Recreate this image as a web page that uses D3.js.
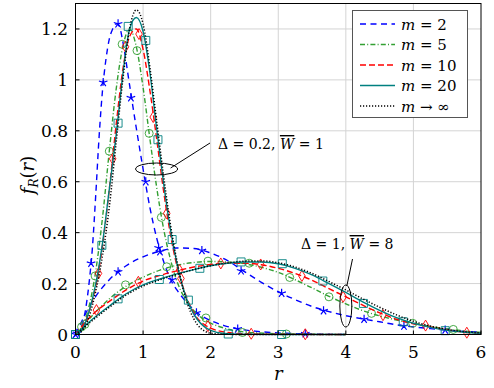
<!DOCTYPE html>
<html>
<head>
<meta charset="utf-8">
<script src="https://cdn.jsdelivr.net/npm/d3@7"></script>
<style>
  body { margin: 0; background: #fff; }
  text { font-family: "DejaVu Serif", serif; }
</style>
</head>
<body>
<svg id="chart" width="494" height="388"></svg>
<script>
// narrow group: Delta = 0.2, W = 1   ([r, f_R(r)])
var n2 = [[0,0],[0.1,0.04],[0.15,0.1],[0.2,0.2],[0.25,0.34],[0.3,0.55],[0.35,0.78],[0.4,0.96],[0.45,1.08],[0.5,1.16],[0.55,1.2],[0.6,1.22],[0.65,1.21],[0.7,1.15],[0.8,0.98],[0.9,0.81],[1.0,0.65],[1.1,0.5],[1.2,0.38],[1.3,0.29],[1.4,0.22],[1.5,0.175],[1.6,0.14],[1.8,0.085],[2.0,0.055],[2.2,0.035],[2.4,0.022],[2.7,0.012],[3.0,0.006],[3.5,0.002],[4.0,0]];
var n5 = [[0,0],[0.1,0.03],[0.2,0.11],[0.3,0.25],[0.4,0.46],[0.5,0.72],[0.6,0.96],[0.7,1.13],[0.8,1.2],[0.9,1.13],[1.0,0.97],[1.1,0.77],[1.2,0.58],[1.3,0.42],[1.4,0.3],[1.5,0.21],[1.6,0.15],[1.7,0.11],[1.8,0.08],[1.9,0.06],[2.0,0.045],[2.2,0.025],[2.5,0.01],[3.0,0.003],[3.5,0.001],[4,0]];
var n10 = [[0,0],[0.1,0.025],[0.2,0.09],[0.3,0.19],[0.4,0.35],[0.5,0.57],[0.6,0.82],[0.7,1.04],[0.8,1.17],[0.9,1.2],[1.0,1.12],[1.1,0.96],[1.2,0.77],[1.3,0.57],[1.4,0.4],[1.5,0.27],[1.6,0.18],[1.7,0.11],[1.8,0.065],[1.9,0.04],[2.0,0.025],[2.2,0.01],[2.5,0.003],[3,0.001],[4,0]];
var n20 = [[0,0],[0.1,0.02],[0.2,0.09],[0.3,0.2],[0.4,0.36],[0.5,0.57],[0.6,0.78],[0.7,1.02],[0.8,1.2],[0.9,1.245],[1.0,1.19],[1.1,1.03],[1.2,0.81],[1.3,0.6],[1.4,0.42],[1.5,0.28],[1.6,0.175],[1.7,0.105],[1.8,0.06],[1.9,0.032],[2.0,0.016],[2.2,0.004],[2.5,0.001],[3,0],[4,0]];
var nInf = [[0,0],[0.1,0.015],[0.2,0.07],[0.3,0.17],[0.4,0.31],[0.5,0.5],[0.6,0.75],[0.7,1.0],[0.8,1.2],[0.9,1.275],[1.0,1.22],[1.1,1.05],[1.2,0.84],[1.3,0.63],[1.4,0.44],[1.5,0.29],[1.6,0.17],[1.7,0.09],[1.8,0.04],[1.9,0.015],[2.0,0.005],[2.2,0.001],[2.5,0],[4,0]];

// broad group: Delta = 1, W = 8
var b2 = [[0,0],[0.25,0.13],[0.5,0.215],[0.75,0.27],[1,0.305],[1.25,0.327],[1.5,0.34],[1.75,0.338],[2,0.32],[2.25,0.29],[2.5,0.247],[2.75,0.205],[3,0.168],[3.25,0.137],[3.5,0.11],[3.75,0.09],[4,0.074],[4.25,0.061],[4.5,0.05],[4.75,0.038],[5,0.03],[5.25,0.023],[5.5,0.017],[5.75,0.012],[6,0.009]];
var b5 = [[0,0],[0.25,0.075],[0.5,0.14],[0.75,0.19],[1,0.225],[1.25,0.253],[1.5,0.272],[1.75,0.283],[2,0.287],[2.25,0.285],[2.5,0.278],[2.75,0.264],[3,0.244],[3.25,0.215],[3.5,0.183],[3.75,0.15],[4,0.12],[4.25,0.094],[4.5,0.073],[4.75,0.057],[5,0.044],[5.25,0.032],[5.5,0.022],[5.75,0.014],[6,0.008]];
var b10 = [[0,0],[0.25,0.078],[0.5,0.13],[0.75,0.175],[1,0.21],[1.25,0.232],[1.5,0.25],[1.75,0.265],[2,0.275],[2.25,0.28],[2.5,0.28],[2.75,0.274],[3,0.26],[3.25,0.24],[3.5,0.213],[3.75,0.18],[4,0.148],[4.25,0.115],[4.5,0.085],[4.75,0.06],[5,0.042],[5.25,0.03],[5.5,0.018],[5.75,0.009],[6,0.005]];
var b20 = [[0,0],[0.25,0.06],[0.5,0.112],[0.75,0.16],[1,0.195],[1.25,0.218],[1.5,0.238],[1.75,0.255],[2,0.27],[2.25,0.28],[2.5,0.285],[2.75,0.285],[3,0.278],[3.25,0.26],[3.5,0.234],[3.75,0.2],[4,0.165],[4.25,0.128],[4.5,0.095],[4.75,0.066],[5,0.044],[5.25,0.028],[5.5,0.016],[5.75,0.009],[6,0.005]];
var bInf = [[0,0],[0.25,0.055],[0.5,0.107],[0.75,0.155],[1,0.19],[1.25,0.215],[1.5,0.236],[1.75,0.255],[2,0.27],[2.25,0.281],[2.5,0.288],[2.75,0.289],[3,0.282],[3.25,0.265],[3.5,0.24],[3.75,0.208],[4,0.175],[4.25,0.14],[4.5,0.107],[4.75,0.077],[5,0.052],[5.25,0.033],[5.5,0.02],[5.75,0.011],[6,0.006]];

// simulation marks
var n2Marks = [[0,0],[0.23,0.28],[0.41,0.99],[0.63,1.22],[0.82,0.93],[1.04,0.6],[1.23,0.34],[1.43,0.215],[1.79,0.085],[2.4,0.022],[3.4,0.003]];
var n5Marks = [[0.09,0.03],[0.29,0.23],[0.5,0.72],[0.69,1.14],[0.91,1.115],[1.09,0.79],[1.27,0.46],[1.93,0.065],[2.47,0.008],[3.12,0.002]];
var n10Marks = [[0.34,0.24],[0.55,0.69],[0.74,1.13],[0.94,1.18],[1.15,0.854],[1.35,0.476],[1.56,0.22],[1.96,0.033],[2.6,0.003],[3.4,0.001]];
var n20Marks = [[0,0],[0.39,0.35],[0.63,0.83],[0.78,1.21],[1.04,1.155],[1.22,0.765],[1.43,0.373],[1.67,0.135],[2.26,0.002],[3.05,0]];
var b2Marks = [[0.02,0.005],[0.63,0.246],[1.25,0.325],[1.87,0.33],[2.45,0.25],[3.05,0.162],[3.67,0.093],[4.27,0.06],[4.86,0.033],[5.47,0.018]];
var b5Marks = [[0.14,0.04],[0.74,0.195],[1.35,0.266],[1.96,0.288],[2.57,0.28],[3.17,0.224],[3.75,0.148],[4.38,0.083],[4.99,0.044],[5.59,0.02]];
var b10Marks = [[0.31,0.096],[0.93,0.207],[1.54,0.253],[2.15,0.279],[2.74,0.275],[3.35,0.23],[3.96,0.148],[4.55,0.076],[5.18,0.035],[5.79,0.007]];
var b20Marks = [[0,0],[0.63,0.14],[1.24,0.216],[1.84,0.26],[2.45,0.285],[3.06,0.278],[3.66,0.21],[4.26,0.122],[4.85,0.05],[5.47,0.015]];

var legendLabels = ["2", "5", "10", "20", "\u221e"];
var xTicks = [0, 1, 2, 3, 4, 5, 6];
var yTicks = [0, 0.2, 0.4, 0.6, 0.8, 1, 1.2];

var pLeft = 75.5, pTop = 3.5, pRight = 481, pBottom = 334.5;

var x = d3.scaleLinear().domain([0, 6]).range([pLeft, pRight]);
var y = d3.scaleLinear().domain([0, 1.3]).range([pBottom, pTop]);

var svg = d3.select("#chart");

// grid
svg.append("g").selectAll("line").data(xTicks.slice(1, -1)).join("line")
    .attr("x1", d => x(d)).attr("x2", d => x(d)).attr("y1", pTop).attr("y2", pBottom)
    .attr("stroke", "#d4d4d4").attr("stroke-width", 1);
svg.append("g").selectAll("line").data(yTicks.slice(1)).join("line")
    .attr("x1", pLeft).attr("x2", pRight).attr("y1", d => y(d)).attr("y2", d => y(d))
    .attr("stroke", "#d4d4d4").attr("stroke-width", 1);

var series = [
    { name: "m2", color: "#0000ff", dash: "6,4.5", mark: "star", lines: [n2, b2], marks: [n2Marks, b2Marks] },
    { name: "m5", color: "#33a033", dash: "5,2.2,1,2.2", mark: "circle", lines: [n5, b5], marks: [n5Marks, b5Marks] },
    { name: "m10", color: "#ff0000", dash: "6,3", mark: "diamond", lines: [n10, b10], marks: [n10Marks, b10Marks] },
    { name: "m20", color: "#008080", dash: null, mark: "square", lines: [n20, b20], marks: [n20Marks, b20Marks] },
    { name: "inf", color: "#000000", dash: "1.2,1.8", mark: null, lines: [nInf, bInf], marks: [] }
];

var line = d3.line().x(d => x(d[0])).y(d => y(d[1])).curve(d3.curveMonotoneX);

svg.append("clipPath").attr("id", "clip").append("rect")
    .attr("x", pLeft - 6).attr("y", pTop).attr("width", pRight - pLeft + 12).attr("height", pBottom - pTop + 6);

function markPath(type) {
    if (type == "star") {
        var p = "";
        for (var i = 0; i < 5; i++) {
            var a = -Math.PI / 2 + i * 2 * Math.PI / 5;
            p += "M0,0L" + (4.5 * Math.cos(a)).toFixed(2) + "," + (4.5 * Math.sin(a)).toFixed(2);
        }
        return p;
    }
    if (type == "circle") return "M4,0A4,4 0 1,1 -4,0A4,4 0 1,1 4,0Z";
    if (type == "diamond") return "M0,-5.5L3.3,0L0,5.5L-3.3,0Z";
    if (type == "square") return "M-4,-4H4V4H-4Z";
}

var plot = svg.append("g").attr("clip-path", "url(#clip)");

series.forEach(s => {
    s.lines.forEach(pts => {
        plot.append("path").datum(pts)
            .attr("d", line)
            .attr("fill", "none")
            .attr("stroke", s.color)
            .attr("stroke-width", s.name == "inf" ? 1.5 : 1.4)
            .attr("stroke-dasharray", s.dash);
    });
    s.marks.forEach(pts => {
        plot.append("g").selectAll("path").data(pts).join("path")
            .attr("transform", d => "translate(" + x(d[0]) + "," + y(d[1]) + ")")
            .attr("d", markPath(s.mark))
            .attr("fill", "none")
            .attr("stroke", s.color)
            .attr("stroke-width", s.mark == "star" ? 1.2 : 0.9);
    });
});

// axis box
svg.append("rect").attr("x", pLeft).attr("y", pTop).attr("width", pRight - pLeft).attr("height", pBottom - pTop)
    .attr("fill", "none").attr("stroke", "#000").attr("stroke-width", 1);

// ticks
svg.append("g").selectAll("line").data(xTicks).join("line")
    .attr("x1", d => x(d)).attr("x2", d => x(d)).attr("y1", pBottom).attr("y2", pBottom - 4)
    .attr("stroke", "#000");
svg.append("g").selectAll("line").data(yTicks).join("line")
    .attr("x1", pLeft).attr("x2", pLeft + 4).attr("y1", d => y(d)).attr("y2", d => y(d))
    .attr("stroke", "#000");

svg.append("g").selectAll("text").data(xTicks).join("text")
    .attr("x", d => x(d)).attr("y", 358)
    .attr("text-anchor", "middle").attr("font-size", 17)
    .text(d => d);
svg.append("g").selectAll("text").data(yTicks).join("text")
    .attr("x", 68).attr("y", d => y(d) + 6)
    .attr("text-anchor", "end").attr("font-size", 17)
    .text(d => d);

svg.append("text").attr("x", (pLeft + pRight) / 2).attr("y", 380)
    .attr("text-anchor", "middle").attr("font-size", 18).attr("font-style", "italic").text("r");

var ylab = svg.append("text").attr("transform", "translate(34,175) rotate(-90)")
    .attr("text-anchor", "middle").attr("font-size", 18);
ylab.append("tspan").attr("font-style", "italic").text("f");
ylab.append("tspan").attr("font-style", "italic").attr("font-size", 12).attr("dy", 4).text("R");
ylab.append("tspan").attr("dy", -4).text("(");
ylab.append("tspan").attr("font-style", "italic").text("r");
ylab.append("tspan").text(")");

// annotations
svg.append("ellipse").attr("cx", x(1.2)).attr("cy", y(0.65)).attr("rx", 21).attr("ry", 6)
    .attr("fill", "none").attr("stroke", "#000").attr("stroke-width", 1);
svg.append("line").attr("x1", x(1.2) + 14).attr("y1", y(0.65) - 1).attr("x2", 210).attr("y2", 143)
    .attr("stroke", "#000").attr("stroke-width", 1);
var a1 = svg.append("text").attr("x", 218).attr("y", 149).attr("font-size", 14);
a1.append("tspan").text("\u0394 = 0.2, ");
a1.append("tspan").attr("font-style", "italic").style("text-decoration", "overline").text("W");
a1.append("tspan").text(" = 1");

svg.append("ellipse").attr("cx", x(4)).attr("cy", 306).attr("rx", 6).attr("ry", 21)
    .attr("fill", "none").attr("stroke", "#000").attr("stroke-width", 1);
svg.append("line").attr("x1", 352.5).attr("y1", 259).attr("x2", x(4) + 1).attr("y2", 286)
    .attr("stroke", "#000").attr("stroke-width", 1);
var a2 = svg.append("text").attr("x", 301).attr("y", 249).attr("font-size", 14);
a2.append("tspan").text("\u0394 = 1, ");
a2.append("tspan").attr("font-style", "italic").style("text-decoration", "overline").text("W");
a2.append("tspan").text(" = 8");

// legend
var lg = svg.append("g");
lg.append("rect").attr("x", 352.5).attr("y", 10.5).attr("width", 115).attr("height", 107)
    .attr("fill", "#fff").attr("stroke", "#555").attr("stroke-width", 1);
series.forEach((s, i) => {
    var ly = 24 + i * 20.5;
    lg.append("line").attr("x1", 360).attr("x2", 395).attr("y1", ly).attr("y2", ly)
        .attr("stroke", s.color).attr("stroke-width", 1.4).attr("stroke-dasharray", s.dash);
    var t = lg.append("text").attr("x", 401).attr("y", ly + 5.5).attr("font-size", 15);
    t.append("tspan").attr("font-style", "italic").text("m");
    t.append("tspan").text(i == 4 ? " \u2192 \u221e" : " = " + legendLabels[i]);
});
</script>
</body>
</html>
